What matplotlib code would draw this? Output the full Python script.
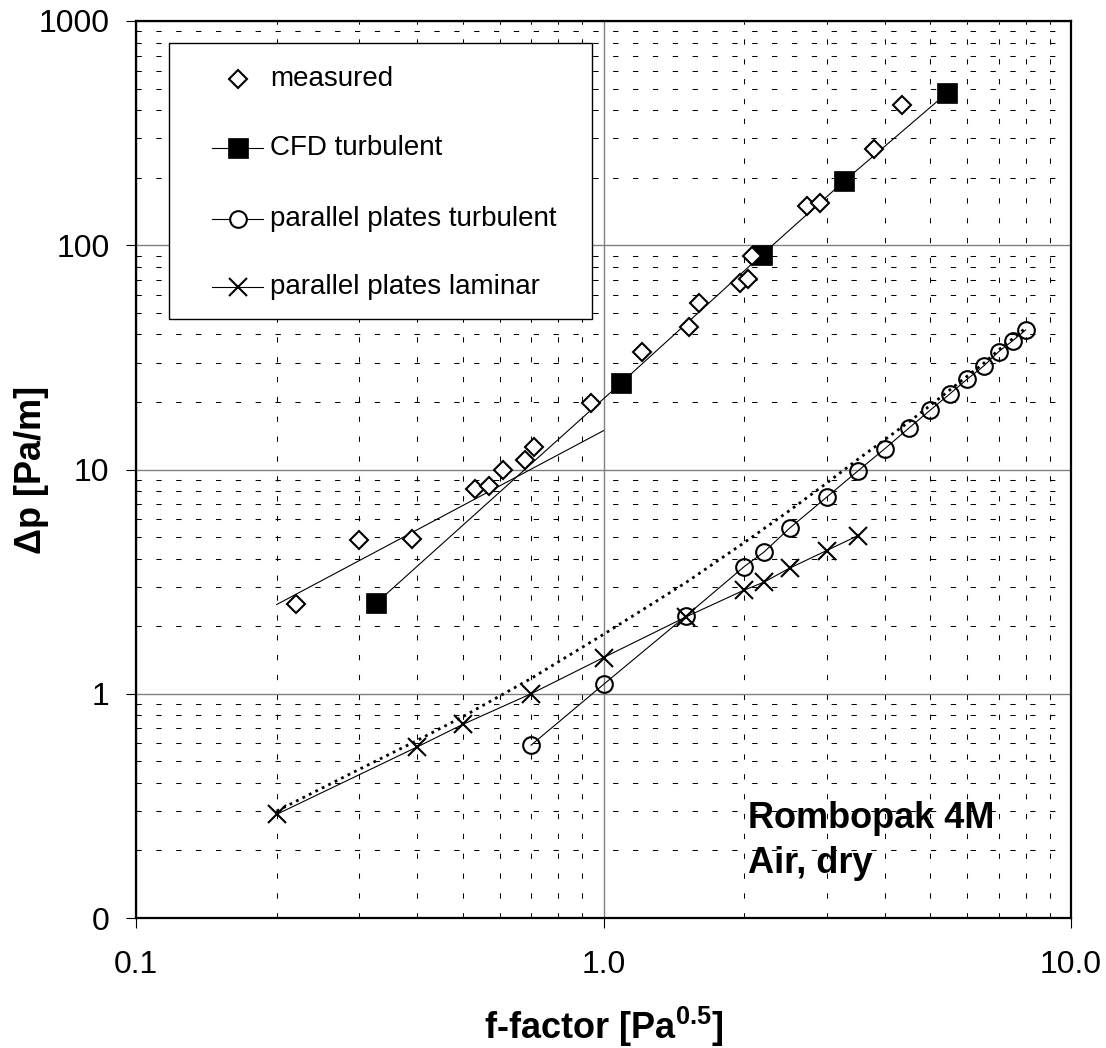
#!/usr/bin/env python3

import matplotlib
matplotlib.use('Agg')
import matplotlib.pyplot as plt
from matplotlib.ticker import LogLocator, NullFormatter
from matplotlib.patches import Rectangle

# measured pressure drop
measured_f = [0.22, 0.30, 0.39, 0.53, 0.57, 0.61, 0.68, 0.71, 0.94, 1.21,
              1.52, 1.60, 1.96, 2.04, 2.08, 2.72, 2.91, 3.79, 4.34]
measured_dp = [2.51, 4.85, 4.88, 8.16, 8.47, 9.95, 11.0, 12.6, 19.7, 33.4,
               43.4, 55.1, 67.7, 70.5, 89.5, 149, 155, 269, 422]

# fit line through the low-load measurements
fit_f = [0.2, 1.0]
fit_dp = [2.5, 14.9]

# CFD turbulent
cfd_f = [0.326, 1.088, 2.18, 3.27, 5.42]
cfd_dp = [2.53, 24.2, 90.5, 193, 476]

# parallel plates turbulent
ppt_f = [0.7, 1.0, 1.5, 2.0, 2.2, 2.5, 3.0, 3.5, 4.0, 4.5, 5.0, 5.5, 6.0,
         6.5, 7.0, 7.5, 8.0]
ppt_dp = [0.59, 1.10, 2.22, 3.69, 4.27, 5.47, 7.52, 9.85, 12.4, 15.3, 18.4,
          21.7, 25.3, 28.9, 33.5, 37.5, 41.9]

# parallel plates laminar
ppl_f = [0.2, 0.4, 0.5, 0.7, 1.0, 1.5, 2.0, 2.2, 2.5, 3.0, 3.5]
ppl_dp = [0.29, 0.58, 0.73, 1.00, 1.45, 2.20, 2.90, 3.14, 3.63, 4.35, 5.07]

# combined laminar + turbulent (dotted)
comb_f = [0.2, 0.3, 0.4, 0.5, 0.7, 1.0, 1.5, 2.0, 2.5, 3.0, 3.5, 4.0, 4.5,
          5.0, 5.5, 6.0, 6.5, 7.0, 7.5, 8.0]
comb_dp = [0.30, 0.46, 0.62, 0.79, 1.17, 1.84, 3.13, 4.72, 6.56, 8.69, 11.1,
           13.6, 16.3, 19.3, 22.6, 26.1, 29.7, 34.1, 38.3, 42.8]

x_ticks = [0.1, 1.0, 10.0]
x_ticklabels = ['0.1', '1.0', '10.0']
y_ticks = [0.1, 1, 10, 100, 1000]
y_ticklabels = ['0', '1', '10', '100', '1000']

legend_labels = ['measured', 'CFD turbulent', 'parallel plates turbulent',
                 'parallel plates laminar']

FONT = 'Liberation Sans'

# marker styles shared by plot and legend
MS_D = dict(marker='D', markersize=8.8, markerfacecolor='white',
            markeredgecolor='black', markeredgewidth=1.5)
MS_S = dict(marker='s', markersize=14.5, markerfacecolor='black',
            markeredgecolor='black', markeredgewidth=0.5)
MS_O = dict(marker='o', markersize=12.0, markerfacecolor='none',
            markeredgecolor='black', markeredgewidth=1.5)
MS_X = dict(marker='x', markersize=13.5, markeredgecolor='black',
            markeredgewidth=1.5)


def make_chart():
    plt.rcParams['font.family'] = [FONT, 'DejaVu Sans']
    plt.rcParams['mathtext.fontset'] = 'custom'
    plt.rcParams['mathtext.rm'] = FONT
    plt.rcParams['mathtext.bf'] = FONT + ':bold'
    plt.rcParams['lines.scale_dashes'] = False

    fig = plt.figure(figsize=(11.06, 10.48), dpi=100)
    ax = fig.add_axes([136 / 1106, 1 - 918 / 1048, 935 / 1106, 897 / 1048])

    ax.set_xscale('log')
    ax.set_yscale('log')
    ax.set_xlim(0.1, 10)
    ax.set_ylim(0.1, 1000)

    ax.set_xticks(x_ticks)
    ax.set_xticklabels(x_ticklabels)
    ax.set_yticks(y_ticks)
    ax.set_yticklabels(y_ticklabels)
    ax.xaxis.set_minor_locator(LogLocator(base=10, subs=range(2, 10)))
    ax.yaxis.set_minor_locator(LogLocator(base=10, subs=range(2, 10)))
    ax.xaxis.set_minor_formatter(NullFormatter())
    ax.yaxis.set_minor_formatter(NullFormatter())
    ax.tick_params(which='major', direction='out', length=7, width=0.8,
                   labelsize=23)
    ax.tick_params(axis='x', which='major', pad=16)
    ax.tick_params(axis='y', which='major', pad=12)
    ax.tick_params(which='minor', length=0)

    ax.set_axisbelow(True)
    ax.grid(True, which='major', color='#808080', linewidth=1.0, linestyle='-')
    ax.grid(True, which='minor', color='black', linewidth=0.75,
            linestyle=(0, (3.8, 10.5)))

    for sp in ax.spines.values():
        sp.set_linewidth(1.6)
        sp.set_color('black')

    lw = 0.8
    ax.plot(comb_f, comb_dp, color='black', linewidth=2.0,
            linestyle=(0, (2.0, 3.2)), zorder=3)
    ax.plot(fit_f, fit_dp, color='black', linewidth=lw, zorder=3)
    ax.plot(ppl_f, ppl_dp, color='black', linewidth=lw, zorder=4, **MS_X)
    ax.plot(ppt_f, ppt_dp, color='black', linewidth=lw, zorder=4, **MS_O)
    ax.plot(cfd_f, cfd_dp, color='black', linewidth=lw, zorder=4, **MS_S)
    ax.plot(measured_f, measured_dp, linestyle='none', zorder=5, **MS_D)

    # legend box
    x0, x1 = 33 / 935, 456 / 935
    y0, y1 = 599 / 897, 875 / 897
    ax.add_patch(Rectangle((x0, y0), x1 - x0, y1 - y0, transform=ax.transAxes,
                           facecolor='white', edgecolor='black',
                           linewidth=1.0, zorder=6))
    rows = [0.9353, 0.8584, 0.7793, 0.7035]
    styles = [(False, MS_D), (True, MS_S), (True, dict(MS_O, markerfacecolor='white')),
              (True, MS_X)]
    for yy, label, (with_line, mst) in zip(rows, legend_labels, styles):
        if with_line:
            ax.plot([0.0813, 0.1358], [yy, yy], transform=ax.transAxes,
                    color='black', linewidth=lw, zorder=7, clip_on=False)
        ax.plot([0.1086], [yy], transform=ax.transAxes, linestyle='none',
                zorder=8, clip_on=False, **mst)
        ax.text(0.1433, yy, label, transform=ax.transAxes, fontsize=20,
                ha='left', va='center', zorder=8)

    ax.text(0.6545, 0.1003, 'Rombopak 4M', transform=ax.transAxes,
            fontsize=26, fontweight='bold', ha='left', va='baseline')
    ax.text(0.6545, 0.0502, 'Air, dry', transform=ax.transAxes,
            fontsize=26, fontweight='bold', ha='left', va='baseline')

    ax.set_xlabel(r'f-factor [Pa$^{\mathbf{0.5}}$]', fontsize=26,
                  fontweight='bold', labelpad=18)
    ax.set_ylabel('Δp [Pa/m]', fontsize=26, fontweight='bold')
    ax.yaxis.set_label_coords(-0.093, 0.5)

    fig.savefig('out.png', dpi=100)
    print("Grafico salvo: out.png")


def main():
    make_chart()


if __name__ == "__main__":
    main()
